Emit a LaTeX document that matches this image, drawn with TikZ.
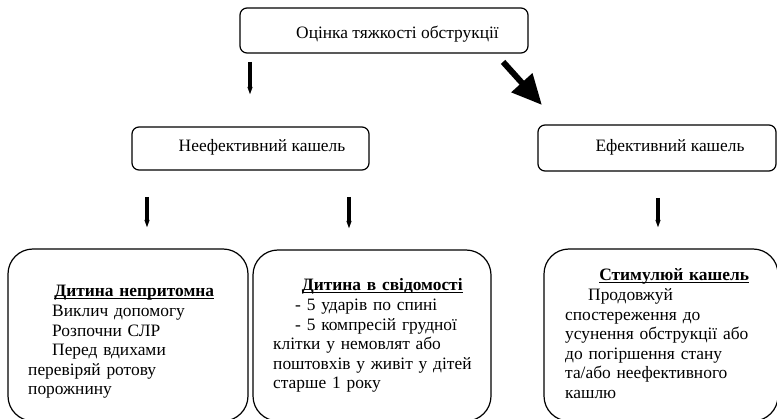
\documentclass[tikz,border=0pt]{standalone}
\usepackage{fontspec}
\setmainfont{Liberation Serif}
\usetikzlibrary{arrows.meta}
\newcommand\myul[1]{\setbox0\hbox{#1}\rlap{\rule[-2.5pt]{\wd0}{1pt}}\box0}
\begin{document}
\begin{tikzpicture}[x=1pt,y=-1pt,
  box/.style={draw, line width=1.2pt, rounded corners=7pt, inner sep=0pt, outer sep=0pt},
  bigbox/.style={box, rounded corners=25pt},
  txt/.style={inner sep=0pt, font=\fontsize{17.4}{19.6}\selectfont},
  para/.style={txt, anchor=base west, align=left},
  spindle/.style={line width=4pt, -{Triangle[length=8pt,width=4.5pt]}},
  bigarrow/.style={line width=6pt, -{Triangle[length=30pt,width=27pt]}}]
\useasboundingbox (0,0) rectangle (777,419);
% boxes
\node[box, minimum width=288pt, minimum height=45pt] (top) at (384,30.5) {};
\node[box, minimum width=237pt, minimum height=43pt] (midL) at (250.5,148.5) {};
\node[box, minimum width=238pt, minimum height=46pt] (midR) at (657,148) {};
\node[bigbox, minimum width=240pt, minimum height=172pt] (b1) at (128,335) {};
\node[bigbox, minimum width=238pt, minimum height=171pt] (b2) at (372,335.5) {};
\node[bigbox, minimum width=234pt, minimum height=172pt] (b3) at (661,335) {};
% texts
\node[txt, anchor=base] (t0) at (397.5,39) {Оцінка тяжкості обструкції};
\node[txt, anchor=base] (t1) at (262,152) {Неефективний кашель};
\node[txt, anchor=base] (t2) at (670,152) {Ефективний кашель};
\node[para, text width=212pt] (t3) at (28,297) {\makebox[212pt]{\myul{\textbf{Дитина непритомна}}}\\
\hspace*{24pt}Виклич допомогу\\
\hspace*{24pt}Розпочни СЛР\\
\hspace*{24pt}Перед вдихами\\
перевіряй ротову\\
порожнину};
\node[para, text width=218pt] (t4) at (273,291) {\makebox[218pt]{\myul{\textbf{Дитина в свідомості}}}\\
\hspace*{22pt}- 5 ударів по спині\\
\hspace*{22pt}- 5 компресій грудної\\
клітки у немовлят або\\
поштовхів у живіт у дітей\\
старше 1 року};
\node[para, text width=218pt] (t5) at (565,281) {\makebox[218pt]{\myul{\textbf{Стимулюй кашель}}}\\
\hspace*{23pt}Продовжуй\\
спостереження до\\
усунення обструкції або\\
до погіршення стану\\
та/або неефективного\\
кашлю};
% connectors
\coordinate (x1) at (250,0);
\coordinate (x2) at (147,0);
\coordinate (x3) at (349,0);
\coordinate (x4) at (658,0);
\coordinate (d1) at (495,0);
\coordinate (d2) at (560,0);
\draw[spindle, shorten <=9pt, shorten >=32pt] (top.south -| x1) -- (midL.north -| x1);
\draw[spindle, shorten <=27pt, shorten >=21pt] (midL.south -| x2) -- (b1.north -| x2);
\draw[spindle, shorten <=27pt, shorten >=21pt] (midL.south -| x3) -- (b2.north -| x3);
\draw[spindle, shorten <=27pt, shorten >=21pt] (midR.south -| x4) -- (b3.north -| x4);
\draw[bigarrow, shorten <=12pt, shorten >=27pt] (top.south -| d1) -- (midR.north -| d2);
\end{tikzpicture}
\end{document}
